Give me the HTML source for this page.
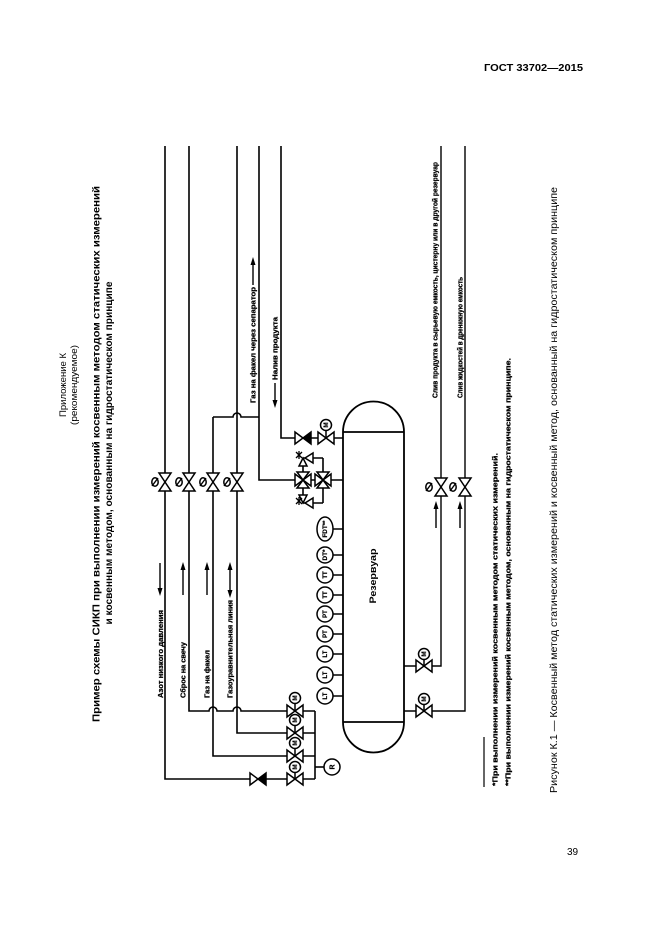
<!DOCTYPE html>
<html><head><meta charset="utf-8"><style>
html,body{margin:0;padding:0;background:#fff;}
svg{display:block;}
text{font-family:"Liberation Sans","DejaVu Sans",sans-serif;fill:#000;}
.lb{font-family:"Liberation Sans Narrow","Liberation Sans",sans-serif;font-weight:bold;font-size:7.2px;stroke:#000;stroke-width:0.25px;}
.ins{font-family:"Liberation Sans Narrow","Liberation Sans",sans-serif;font-weight:bold;font-size:6px;stroke:#000;stroke-width:0.2px;}
</style></head><body>
<svg width="661" height="935" viewBox="0 0 661 935" xmlns="http://www.w3.org/2000/svg">
<rect width="661" height="935" fill="#fff"/>

<!-- header & page number -->
<text x="484" y="71" font-weight="bold" font-size="10.5" textLength="99" lengthAdjust="spacingAndGlyphs">ГОСТ 33702—2015</text>
<text x="567" y="855" font-size="10">39</text>

<!-- title (rotated) -->
<text transform="translate(66,385) rotate(-90)" text-anchor="middle" font-size="9.5" textLength="64" lengthAdjust="spacingAndGlyphs">Приложение К</text>
<text transform="translate(77,385) rotate(-90)" text-anchor="middle" font-size="9.5" textLength="80" lengthAdjust="spacingAndGlyphs">(рекомендуемое)</text>
<text transform="translate(99.5,454) rotate(-90)" text-anchor="middle" font-size="10.5" font-weight="bold" textLength="536" lengthAdjust="spacingAndGlyphs">Пример схемы СИКП при выполнении измерений косвенным методом статических измерений</text>
<text transform="translate(112,453) rotate(-90)" text-anchor="middle" font-size="10.5" font-weight="bold" textLength="343" lengthAdjust="spacingAndGlyphs">и косвенным методом, основанным на гидростатическом принципе</text>

<!-- caption -->
<text transform="translate(557,793) rotate(-90)" font-size="10" textLength="606" lengthAdjust="spacingAndGlyphs">Рисунок К.1 — Косвенный метод статических измерений и косвенный метод, основанный на гидростатическом принципе</text>

<!-- footnotes -->
<line x1="484" y1="737" x2="484" y2="787" stroke="#000" stroke-width="1.2"/>
<text class="lb" transform="translate(497.5,786) rotate(-90)" font-size="7.5" textLength="333" lengthAdjust="spacingAndGlyphs">*При выполнении измерений косвенным методом статических измерений.</text>
<text class="lb" transform="translate(510.5,786) rotate(-90)" font-size="7.5" textLength="428" lengthAdjust="spacingAndGlyphs">**При выполнении измерений косвенным методом, основанным на гидростатическом принципе.</text>

<g fill="none" stroke="#000" stroke-width="1.6">
  <path d="M165,146 L165,779 L315,779"/>
  <path d="M189,146 L189,711 L209,711 A4,4 0 0 1 217,711 L233,711 A4,4 0 0 1 241,711 L315,711"/>
  <path d="M213,417 L213,756 L315,756"/>
  <path d="M213,417 L233,417 A4,4 0 0 1 241,417 L259,417"/>
  <path d="M237,146 L237,733 L315,733"/>
  <path d="M259,146 L259,480 L343,480"/>
  <path d="M281,146 L281,438 L343,438"/>
  <path d="M315,711 L315,779"/>
  <path d="M315,767 L324,767"/>
  <path d="M441,146 L441,666 L404,666" stroke-width="1.4"/>
  <path d="M465,146 L465,711 L404,711" stroke-width="1.4"/>
  <path d="M303,458 L303,503 M323,458 L323,503 M303,458 L323,458 M303,503 L323,503"/>
  <path d="M343,432 L343,722 A30.5,30.5 0 0 0 404,722 L404,432 A30.5,30.5 0 0 0 343,432 Z" stroke-width="1.8"/>
  <path d="M343,432 L404,432 M343,722 L404,722" stroke-width="1.8"/>
  <path d="M333,529 L343,529 M333,555 L343,555 M333,575 L343,575 M333,595 L343,595 M333,614 L343,614 M333,634 L343,634 M333,654 L343,654 M333,675 L343,675 M333,696 L343,696"/>
</g>

<!-- vertical gate valves with handwheels -->
<g stroke="#000" stroke-width="1.5" fill="#fff">
  <polygon points="159,473 171,473 165,482 159,491 171,491 165,482"/>
  <polygon points="183,473 195,473 189,482 183,491 195,491 189,482"/>
  <polygon points="207,473 219,473 213,482 207,491 219,491 213,482"/>
  <polygon points="231,473 243,473 237,482 231,491 243,491 237,482"/>
  <polygon points="435,478 447,478 441,487 435,496 447,496 441,487"/>
  <polygon points="459,478 471,478 465,487 459,496 471,496 465,487"/>
  <ellipse cx="155" cy="482" rx="3.2" ry="4.2"/>
  <ellipse cx="179" cy="482" rx="3.2" ry="4.2"/>
  <ellipse cx="203" cy="482" rx="3.2" ry="4.2"/>
  <ellipse cx="227" cy="482" rx="3.2" ry="4.2"/>
  <ellipse cx="429" cy="487" rx="3.2" ry="4.2"/>
  <ellipse cx="453" cy="487" rx="3.2" ry="4.2"/>
</g>
<g stroke="#000" stroke-width="1.4">
  <line x1="152" y1="486" x2="158" y2="478"/>
  <line x1="176" y1="486" x2="182" y2="478"/>
  <line x1="200" y1="486" x2="206" y2="478"/>
  <line x1="224" y1="486" x2="230" y2="478"/>
  <line x1="426" y1="491" x2="432" y2="483"/>
  <line x1="450" y1="491" x2="456" y2="483"/>
</g>

<!-- bottom-left valves with actuators -->
<g stroke="#000" stroke-width="1.5" fill="#fff">
  <polygon points="287,705 287,717 295,711 303,705 303,717 295,711"/>
  <polygon points="287,727 287,739 295,733 303,727 303,739 295,733"/>
  <polygon points="287,750 287,762 295,756 303,750 303,762 295,756"/>
  <polygon points="287,773 287,785 295,779 303,773 303,785 295,779"/>
  <line x1="295" y1="704" x2="295" y2="711"/>
  <line x1="295" y1="726" x2="295" y2="733"/>
  <line x1="295" y1="749" x2="295" y2="756"/>
  <line x1="295" y1="773" x2="295" y2="779"/>
  <circle cx="295" cy="698" r="5.5"/>
  <circle cx="295" cy="720" r="5.5"/>
  <circle cx="295" cy="743" r="5.5"/>
  <circle cx="295" cy="767" r="5.5"/>
  <polygon points="250,773 250,785 258,779"/>
  <polygon points="266,773 266,785 258,779" fill="#000"/>
  <circle cx="332" cy="767" r="8"/>
</g>
<g class="ins" font-size="6">
  <text transform="translate(297,698) rotate(-90)" text-anchor="middle">M</text>
  <text transform="translate(297,720) rotate(-90)" text-anchor="middle">M</text>
  <text transform="translate(297,743) rotate(-90)" text-anchor="middle">M</text>
  <text transform="translate(297,767) rotate(-90)" text-anchor="middle">M</text>
  <text transform="translate(334.5,767) rotate(-90)" text-anchor="middle" font-size="7">R</text>
</g>

<!-- top line check valve + actuated valve -->
<g stroke="#000" stroke-width="1.5" fill="#fff">
  <polygon points="295,432 295,444 303,438"/>
  <polygon points="311,432 311,444 303,438" fill="#000"/>
  <polygon points="318,432 318,444 326,438 334,432 334,444 326,438"/>
  <line x1="326" y1="431" x2="326" y2="438"/>
  <circle cx="326" cy="425" r="5.5"/>
  <polygon points="416,660 416,672 424,666 432,660 432,672 424,666"/>
  <line x1="424" y1="660" x2="424" y2="666"/>
  <circle cx="424" cy="654" r="5.5"/>
  <polygon points="416,705 416,717 424,711 432,705 432,717 424,711"/>
  <line x1="424" y1="705" x2="424" y2="711"/>
  <circle cx="424" cy="699" r="5.5"/>
</g>
<g class="ins" font-size="6">
  <text transform="translate(328,425) rotate(-90)" text-anchor="middle">M</text>
  <text transform="translate(426,654) rotate(-90)" text-anchor="middle">M</text>
  <text transform="translate(426,699) rotate(-90)" text-anchor="middle">M</text>
</g>

<!-- 3-way cluster -->
<g stroke="#000" stroke-width="1.5" fill="#fff">
  <polygon points="295,474 295,486 303,480 311,474 311,486 303,480"/>
  <polygon points="297,472 309,472 303,480 297,488 309,488 303,480"/>
  <polygon points="315,474 315,486 323,480 331,474 331,486 323,480"/>
  <polygon points="317,472 329,472 323,480 317,488 329,488 323,480"/>
  <polygon points="305,458 313,453 313,463"/>
  <polygon points="299,466 307,466 303,458"/>
  <polygon points="305,503 313,498 313,508"/>
  <polygon points="299,495 307,495 303,503"/>
</g>
<g stroke="#000" stroke-width="1.3">
  <line x1="296" y1="452" x2="302" y2="458"/><line x1="302" y1="452" x2="296" y2="458"/><line x1="299" y1="451" x2="299" y2="459"/>
  <line x1="296" y1="498" x2="302" y2="504"/><line x1="302" y1="498" x2="296" y2="504"/><line x1="299" y1="497" x2="299" y2="505"/>
</g>

<!-- instrument circles -->
<g stroke="#000" stroke-width="1.5" fill="#fff">
  <ellipse cx="325" cy="529" rx="8" ry="12"/>
  <circle cx="325" cy="555" r="8"/>
  <circle cx="325" cy="575" r="8"/>
  <circle cx="325" cy="595" r="8"/>
  <circle cx="325" cy="614" r="8"/>
  <circle cx="325" cy="634" r="8"/>
  <circle cx="325" cy="654" r="8"/>
  <circle cx="325" cy="675" r="8"/>
  <circle cx="325" cy="696" r="8"/>
</g>
<g class="ins">
  <text transform="translate(327.2,529) rotate(-90)" text-anchor="middle" textLength="17" lengthAdjust="spacingAndGlyphs">FDT**</text>
  <text transform="translate(327.2,555) rotate(-90)" text-anchor="middle" textLength="11" lengthAdjust="spacingAndGlyphs">DT*</text>
  <text transform="translate(327.2,575) rotate(-90)" text-anchor="middle">TT</text>
  <text transform="translate(327.2,595) rotate(-90)" text-anchor="middle">TT</text>
  <text transform="translate(327.2,614) rotate(-90)" text-anchor="middle">PT</text>
  <text transform="translate(327.2,634) rotate(-90)" text-anchor="middle">PT</text>
  <text transform="translate(327.2,654) rotate(-90)" text-anchor="middle">LT</text>
  <text transform="translate(327.2,675) rotate(-90)" text-anchor="middle">LT</text>
  <text transform="translate(327.2,696) rotate(-90)" text-anchor="middle">LT</text>
</g>

<!-- tank label -->
<text transform="translate(376,576) rotate(-90)" text-anchor="middle" font-size="9" font-weight="bold" textLength="55" lengthAdjust="spacingAndGlyphs">Резервуар</text>

<!-- line labels -->
<g class="lb">
  <text transform="translate(255.5,403) rotate(-90)" textLength="116" lengthAdjust="spacingAndGlyphs">Газ на факел через сепаратор</text>
  <text transform="translate(277.5,380) rotate(-90)" textLength="63" lengthAdjust="spacingAndGlyphs">Налив продукта</text>
  <text transform="translate(163,698) rotate(-90)" textLength="88" lengthAdjust="spacingAndGlyphs">Азот низкого давления</text>
  <text transform="translate(185.5,698) rotate(-90)" textLength="56" lengthAdjust="spacingAndGlyphs">Сброс на свечу</text>
  <text transform="translate(209.5,698) rotate(-90)" textLength="48" lengthAdjust="spacingAndGlyphs">Газ на факел</text>
  <text transform="translate(232.5,698) rotate(-90)" textLength="98" lengthAdjust="spacingAndGlyphs">Газоуравнительная линия</text>
  <text transform="translate(437.5,398) rotate(-90)" textLength="236" lengthAdjust="spacingAndGlyphs">Слив продукта в сырьевую емкость, цистерну или в другой резервуар</text>
  <text transform="translate(462.5,398) rotate(-90)" textLength="121" lengthAdjust="spacingAndGlyphs">Слив жидкостей в дренажную емкость</text>
</g>

<!-- flow arrows -->
<g stroke="#000" stroke-width="1.4" fill="#000">
  <line x1="253" y1="285" x2="253" y2="264"/><polygon points="253,257 250.5,265 255.5,265" stroke="none"/>
  <line x1="275" y1="383" x2="275" y2="401"/><polygon points="275,408 272.5,400 277.5,400" stroke="none"/>
  <line x1="160" y1="563" x2="160" y2="589"/><polygon points="160,596 157.5,588 162.5,588" stroke="none"/>
  <line x1="183" y1="595" x2="183" y2="569"/><polygon points="183,562 180.5,570 185.5,570" stroke="none"/>
  <line x1="207" y1="595" x2="207" y2="569"/><polygon points="207,562 204.5,570 209.5,570" stroke="none"/>
  <line x1="230" y1="569" x2="230" y2="591"/><polygon points="230,562 227.5,570 232.5,570" stroke="none"/><polygon points="230,598 227.5,590 232.5,590" stroke="none"/>
  <line x1="436" y1="528" x2="436" y2="508"/><polygon points="436,501 433.5,509 438.5,509" stroke="none"/>
  <line x1="460" y1="528" x2="460" y2="508"/><polygon points="460,501 457.5,509 462.5,509" stroke="none"/>
</g>
</svg>
</body></html>
